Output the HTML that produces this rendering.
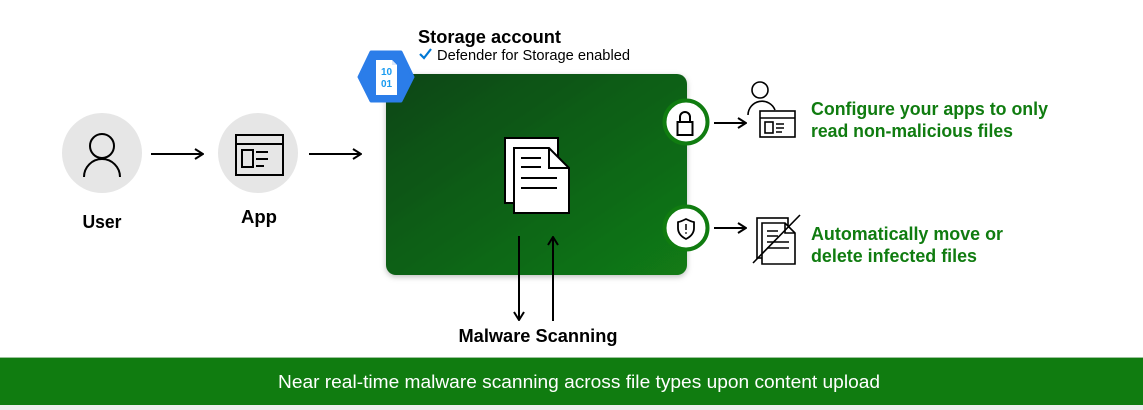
<!DOCTYPE html>
<html><head><meta charset="utf-8"><style>
html,body{margin:0;padding:0;background:#fff;}
svg{display:block;}
text{font-family:"Liberation Sans",sans-serif;}
</style></head><body>
<svg width="1143" height="410" viewBox="0 0 1143 410" xmlns="http://www.w3.org/2000/svg">
<defs>
<linearGradient id="g" x1="0" y1="0" x2="1" y2="1">
<stop offset="0" stop-color="#0a4616"/>
<stop offset="1" stop-color="#127b18"/>
</linearGradient>
<filter id="sh" x="-10%" y="-10%" width="120%" height="125%">
<feDropShadow dx="0" dy="2" stdDeviation="3" flood-color="#000" flood-opacity="0.25"/>
</filter>
<marker id="ah" markerWidth="10" markerHeight="12" refX="9" refY="6" orient="auto" markerUnits="userSpaceOnUse">
<path d="M1,1 L9,6 L1,11" fill="none" stroke="#000" stroke-width="2"/>
</marker>
</defs>

<!-- User -->
<circle cx="102" cy="153" r="40" fill="#e6e6e6"/>
<circle cx="102" cy="146" r="12" fill="none" stroke="#000" stroke-width="2"/>
<path d="M84,177 A18,18 0 0 1 120,177" fill="none" stroke="#000" stroke-width="2"/>
<text x="102" y="228" text-anchor="middle" font-size="18" font-weight="bold" textLength="39" lengthAdjust="spacingAndGlyphs">User</text>

<line x1="151" y1="154" x2="203" y2="154" stroke="#000" stroke-width="2" marker-end="url(#ah)"/>

<!-- App -->
<circle cx="258" cy="153" r="40" fill="#e6e6e6"/>
<rect x="236" y="135" width="47" height="40" fill="none" stroke="#000" stroke-width="2"/>
<line x1="236" y1="144" x2="283" y2="144" stroke="#000" stroke-width="2"/>
<rect x="242" y="150" width="11" height="17" fill="none" stroke="#000" stroke-width="2"/>
<line x1="256" y1="152" x2="268" y2="152" stroke="#000" stroke-width="2"/>
<line x1="256" y1="159" x2="268" y2="159" stroke="#000" stroke-width="2"/>
<line x1="256" y1="166" x2="264" y2="166" stroke="#000" stroke-width="2"/>
<text x="259" y="223" text-anchor="middle" font-size="18" font-weight="bold" textLength="36" lengthAdjust="spacingAndGlyphs">App</text>

<line x1="309" y1="154" x2="361" y2="154" stroke="#000" stroke-width="2" marker-end="url(#ah)"/>

<!-- Storage box -->
<rect x="386" y="74" width="301" height="201" rx="10" fill="url(#g)" filter="url(#sh)"/>

<!-- Title -->
<text x="418" y="43" font-size="18" font-weight="bold" textLength="143" lengthAdjust="spacingAndGlyphs">Storage account</text>
<path d="M420,54 L424,58 L431,49" fill="none" stroke="#0078d4" stroke-width="2.2"/>
<text x="437" y="60" font-size="14.5" textLength="193" lengthAdjust="spacingAndGlyphs">Defender for Storage enabled</text>

<!-- Hexagon -->
<polygon points="359,77 371,52 401,52 413,77 401,101 371,101" fill="#2b7de9" stroke="#2b7de9" stroke-width="3" stroke-linejoin="round"/>
<path d="M376,60 L392,60 L397,65 L397,95 L376,95 Z" fill="#fff"/>
<path d="M392,60 L392,65 L397,65" fill="#dbe8fb"/>
<text x="386.5" y="75" text-anchor="middle" font-size="10" font-weight="bold" fill="#1a9bf0">10</text>
<text x="386.5" y="87" text-anchor="middle" font-size="10" font-weight="bold" fill="#1a9bf0">01</text>

<!-- Documents in box -->
<rect x="505" y="138" width="53" height="65" fill="#fff" stroke="#000" stroke-width="2"/>
<path d="M514,148 L549,148 L569,168 L569,213 L514,213 Z" fill="#fff" stroke="#000" stroke-width="2" stroke-linejoin="miter"/>
<path d="M549,148 L549,168 L569,168" fill="none" stroke="#000" stroke-width="2"/>
<line x1="521" y1="158" x2="541" y2="158" stroke="#000" stroke-width="2"/>
<line x1="521" y1="167" x2="541" y2="167" stroke="#000" stroke-width="2"/>
<line x1="521" y1="178" x2="557" y2="178" stroke="#000" stroke-width="2"/>
<line x1="521" y1="188" x2="557" y2="188" stroke="#000" stroke-width="2"/>

<!-- Scan arrows -->
<line x1="519" y1="236" x2="519" y2="320" stroke="#000" stroke-width="2" marker-end="url(#ah)"/>
<line x1="553" y1="321" x2="553" y2="237" stroke="#000" stroke-width="2" marker-end="url(#ah)"/>
<text x="538" y="342" text-anchor="middle" font-size="18" font-weight="bold" textLength="159" lengthAdjust="spacingAndGlyphs">Malware Scanning</text>

<!-- Lock circle -->
<circle cx="686" cy="122" r="21.5" fill="#fff" stroke="#107c10" stroke-width="4"/>
<path d="M680,122 L680,117 A5,5 0 0 1 690,117 L690,122" fill="none" stroke="#000" stroke-width="2"/>
<rect x="677.5" y="122" width="15" height="13" fill="none" stroke="#000" stroke-width="2"/>
<line x1="714" y1="123" x2="746" y2="123" stroke="#000" stroke-width="2" marker-end="url(#ah)"/>

<!-- Person + app icon -->
<circle cx="760" cy="90" r="8" fill="none" stroke="#000" stroke-width="1.6"/>
<path d="M748,115 A14,14 0 0 1 775,110" fill="none" stroke="#000" stroke-width="1.6"/>
<rect x="760" y="111" width="35" height="26" fill="#fff" stroke="#000" stroke-width="1.6"/>
<line x1="760" y1="118" x2="795" y2="118" stroke="#000" stroke-width="1.6"/>
<rect x="765" y="122" width="8" height="11" fill="none" stroke="#000" stroke-width="1.6"/>
<line x1="776" y1="124" x2="784" y2="124" stroke="#000" stroke-width="1.5"/>
<line x1="776" y1="128" x2="784" y2="128" stroke="#000" stroke-width="1.5"/>
<line x1="776" y1="132" x2="782" y2="132" stroke="#000" stroke-width="1.5"/>

<text x="811" y="115" font-size="18" font-weight="bold" fill="#107c10" textLength="237" lengthAdjust="spacingAndGlyphs">Configure your apps to only</text>
<text x="811" y="137" font-size="18" font-weight="bold" fill="#107c10" textLength="202" lengthAdjust="spacingAndGlyphs">read non-malicious files</text>

<!-- Shield circle -->
<circle cx="686" cy="228" r="21.5" fill="#fff" stroke="#107c10" stroke-width="4"/>
<path d="M686,219 Q680,222 678,222 L678,228 Q678,235 686,239 Q694,235 694,228 L694,222 Q692,222 686,219 Z" fill="none" stroke="#000" stroke-width="1.8" stroke-linejoin="round"/>
<line x1="686" y1="224" x2="686" y2="230" stroke="#000" stroke-width="1.5"/>
<circle cx="686" cy="233" r="0.9" fill="#000"/>
<line x1="714" y1="228" x2="746" y2="228" stroke="#000" stroke-width="2" marker-end="url(#ah)"/>

<!-- Deleted file icon -->
<rect x="757" y="218" width="31" height="40" fill="#fff" stroke="#000" stroke-width="1.6"/>
<path d="M762,223 L785,223 L795,233 L795,264 L762,264 Z" fill="#fff" stroke="#000" stroke-width="1.6"/>
<path d="M785,223 L785,233 L795,233" fill="none" stroke="#000" stroke-width="1.6"/>
<line x1="767" y1="231" x2="778" y2="231" stroke="#000" stroke-width="1.5"/>
<line x1="767" y1="236" x2="778" y2="236" stroke="#000" stroke-width="1.5"/>
<line x1="767" y1="242" x2="789" y2="242" stroke="#000" stroke-width="1.5"/>
<line x1="767" y1="248" x2="789" y2="248" stroke="#000" stroke-width="1.5"/>
<line x1="753" y1="263" x2="800" y2="215" stroke="#000" stroke-width="1.6"/>

<text x="811" y="240" font-size="18" font-weight="bold" fill="#107c10" textLength="192" lengthAdjust="spacingAndGlyphs">Automatically move or</text>
<text x="811" y="262" font-size="18" font-weight="bold" fill="#107c10" textLength="166" lengthAdjust="spacingAndGlyphs">delete infected files</text>

<!-- Bottom band -->
<rect x="0" y="357" width="1143" height="1" fill="#9cc39c"/>
<rect x="0" y="358" width="1143" height="47" fill="#107c10"/>
<rect x="0" y="405" width="1143" height="5" fill="#eeeeee"/>
<text x="579" y="388" text-anchor="middle" font-size="18" fill="#fff" textLength="602" lengthAdjust="spacingAndGlyphs">Near real-time malware scanning across file types upon content upload</text>
</svg>
</body></html>
